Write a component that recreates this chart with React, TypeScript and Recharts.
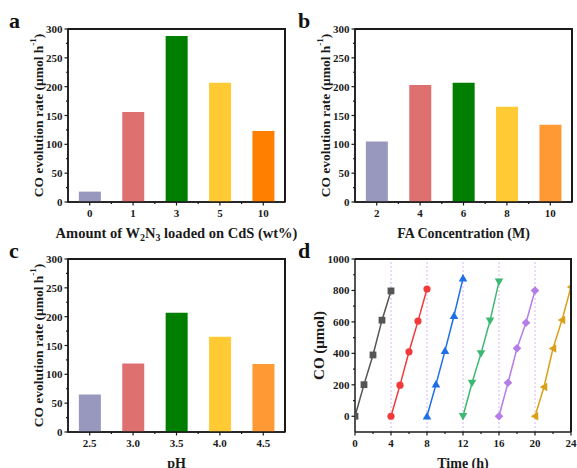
import React from 'react';
import { BarChart, Bar, Cell, XAxis, YAxis, LineChart, Line, ReferenceLine, ReferenceArea, Label } from 'recharts';

const FONT = '"Liberation Serif", "Times New Roman", serif';
const INK = '#1a1a1a';

// panel a: W2N3 loading
const loadings = ['0', '1', '3', '5', '10'];
const loadingRates = [18, 156, 288, 207, 123];
// panel b: formic acid concentration
const faConc = ['2', '4', '6', '8', '10'];
const faRates = [105, 203, 207, 165, 134];
// panel c: pH
const phValues = ['2.5', '3.0', '3.5', '4.0', '4.5'];
const phRates = [65, 119, 207, 165, 118];

const rateTicks = [0, 50, 100, 150, 200, 250, 300];
const rateMinor = [25, 75, 125, 175, 225, 275];
const colorsA = ['#9897BE', '#DE7070', '#007E00', '#FFCA33', '#FF8000'];
const colorsBC = ['#9897BE', '#DE7070', '#007E00', '#FFCA33', '#FF9933'];

// panel d: cycling runs
const cycleTimes = [
  [0, 1, 2, 3, 4],
  [4, 5, 6, 7, 8],
  [8, 9, 10, 11, 12],
  [12, 13, 14, 15, 16],
  [16, 17, 18, 19, 20],
  [20, 21, 22, 23, 24],
];
const cycleCO = [
  [0, 201, 390, 611, 797],
  [0, 198, 410, 605, 809],
  [0, 203, 416, 639, 877],
  [0, 212, 400, 607, 856],
  [0, 213, 432, 595, 800],
  [0, 186, 431, 612, 822],
];
const cycleColors = ['#555555', '#F23A3C', '#1E6FE6', '#3DB872', '#B47DE8', '#D9A01A'];
const cycleShapes = ['square', 'circle', 'up', 'down', 'diamond', 'left'];
const timeTicks = [0, 4, 8, 12, 16, 20, 24];
const timeMinor = [2, 6, 10, 14, 18, 22];
const coTicks = [0, 200, 400, 600, 800, 1000];
const coMinor = [100, 300, 500, 700, 900];
const cycleEnds = [4, 8, 12, 16, 20];

// plot box inside each panel
const PLOT_TOP = 29;
const Y_AXIS_W = 68;
const PLOT_H = 173;

const axisLine = { stroke: INK, strokeWidth: 1.5 };
const fontProps = { fill: INK, fontSize: 11, fontWeight: 700, fontFamily: FONT };

// top and right edges of the plot box as plain bordered divs
function BoxEdges({ w, r }: { w: number; r: number }) {
  return (
    <div
      style={{
        position: 'absolute',
        left: Y_AXIS_W,
        top: PLOT_TOP - 1,
        width: w - r - Y_AXIS_W + 1,
        height: PLOT_H + 1,
        boxSizing: 'border-box',
        borderTop: `2px solid ${INK}`,
        borderRight: `2px solid ${INK}`,
        pointerEvents: 'none',
      }}
    />
  );
}

const makeYTick = (majors: number[]) => (props: any) => {
  const { x, y, payload } = props;
  const major = majors.includes(payload.value);
  return (
    <g>
      <line x1={x} x2={x - (major ? 3.5 : 2)} y1={y} y2={y} stroke={INK} strokeWidth={1.2} />
      {major && (
        <text x={x - 5.5} y={y} dy={4} textAnchor="end" {...fontProps}>
          {payload.value}
        </text>
      )}
    </g>
  );
};

const makeXTick = (majors: number[]) => (props: any) => {
  const { x, y, payload } = props;
  const major = majors.includes(payload.value);
  return (
    <g>
      <line x1={x} x2={x} y1={y} y2={y + (major ? 3.5 : 2)} stroke={INK} strokeWidth={1.2} />
      {major && (
        <text x={x} y={y + 15} textAnchor="middle" {...fontProps}>
          {payload.value}
        </text>
      )}
    </g>
  );
};

const CatTick = (props: any) => {
  const { x, y, payload, index, width, visibleTicksCount } = props;
  const half = payload.offset || (width && visibleTicksCount ? width / visibleTicksCount / 2 : 21.7);
  return (
    <g>
      <line x1={x} x2={x} y1={y} y2={y + 3.5} stroke={INK} strokeWidth={1.2} />
      {index > 0 && <line x1={x - half} x2={x - half} y1={y} y2={y + 2} stroke={INK} strokeWidth={1.2} />}
      <text x={x} y={y + 15} textAnchor="middle" {...fontProps}>
        {payload.value}
      </text>
    </g>
  );
};

function xTitle(content: React.ReactNode, size = 14) {
  return (props: any) => {
    const vb = props.viewBox || {};
    return (
      <text
        x={vb.x + vb.width / 2}
        y={vb.y + 36}
        textAnchor="middle"
        fontFamily={FONT}
        fontWeight={700}
        fontSize={size}
        fill={INK}
      >
        {content}
      </text>
    );
  };
}

function yTitle(content: React.ReactNode, cxOff: number, size: number) {
  return (props: any) => {
    const vb = props.viewBox || {};
    const cx = vb.x + cxOff;
    const cy = vb.y + vb.height / 2;
    return (
      <text
        x={cx}
        y={cy}
        transform={`rotate(-90, ${cx}, ${cy})`}
        textAnchor="middle"
        dominantBaseline="central"
        fontFamily={FONT}
        fontWeight={700}
        fontSize={size}
        fill={INK}
      >
        {content}
      </text>
    );
  };
}

const rateTitle = (
  <>
    CO evolution rate (μmol h
    <tspan dy={-5} fontSize={9}>-1</tspan>
    <tspan dy={5}>)</tspan>
  </>
);

function PanelLetter({ ch, left, top }: { ch: string; left: number; top: number }) {
  return (
    <div
      style={{
        position: 'absolute',
        left,
        top,
        fontFamily: FONT,
        fontWeight: 700,
        fontSize: 22,
        lineHeight: '22px',
        color: '#111',
      }}
    >
      {ch}
    </div>
  );
}

function RatePanel({ cats, rates, colors, title, titleSize = 14, left, top, extra = 0 }: any) {
  const data = cats.map((c: string, i: number) => ({ cat: c, rate: rates[i] }));
  const w = 288 + extra;
  const r = 3 + extra;
  return (
    <div style={{ position: 'absolute', left, top, width: w, height: 246 }}>
      <BarChart
        width={w}
        height={246}
        data={data}
        margin={{ top: PLOT_TOP, right: r, left: 0, bottom: 0 }}
        barCategoryGap="25%"
      >
        <XAxis
          dataKey="cat"
          height={246 - PLOT_TOP - PLOT_H}
          axisLine={axisLine}
          tickLine={false}
          tickSize={0}
          tickMargin={0}
          tick={CatTick}
          interval={0}
        >
          <Label content={xTitle(title, titleSize)} />
        </XAxis>
        <YAxis
          domain={[0, 300]}
          ticks={[...rateTicks, ...rateMinor]}
          width={Y_AXIS_W}
          axisLine={axisLine}
          tickLine={false}
          tickSize={0}
          tickMargin={0}
          tick={makeYTick(rateTicks)}
          interval={0}
        >
          <Label content={yTitle(rateTitle, 38, 13.5)} />
        </YAxis>
        <Bar dataKey="rate" isAnimationActive={false}>
          {data.map((_: any, i: number) => (
            <Cell key={i} fill={colors[i]} />
          ))}
        </Bar>
        <ReferenceArea y1={0} y2={300} fill="none" fillOpacity={0} stroke={INK} strokeWidth={1.5} ifOverflow="visible" />
      </BarChart>
      <BoxEdges w={w} r={r} />
    </div>
  );
}

function Marker({ shape, cx, cy, color }: { shape: string; cx: number; cy: number; color: string }) {
  const s = 3.4;
  const t = 4.3;
  if (shape === 'square') return <rect x={cx - s} y={cy - s} width={2 * s} height={2 * s} fill={color} />;
  if (shape === 'circle') return <circle cx={cx} cy={cy} r={3.6} fill={color} />;
  if (shape === 'diamond')
    return <polygon points={`${cx},${cy - t} ${cx + t},${cy} ${cx},${cy + t} ${cx - t},${cy}`} fill={color} />;
  if (shape === 'up')
    return <polygon points={`${cx},${cy - t} ${cx + t},${cy + t * 0.75} ${cx - t},${cy + t * 0.75}`} fill={color} />;
  if (shape === 'down')
    return <polygon points={`${cx},${cy + t} ${cx + t},${cy - t * 0.75} ${cx - t},${cy - t * 0.75}`} fill={color} />;
  return <polygon points={`${cx - t},${cy} ${cx + t * 0.75},${cy - t} ${cx + t * 0.75},${cy + t}`} fill={color} />;
}

function CyclePanel({ left, top }: { left: number; top: number }) {
  const w = 290;
  const r = 6;
  return (
    <div style={{ position: 'absolute', left, top, width: w, height: 240 }}>
      <LineChart width={w} height={240} margin={{ top: PLOT_TOP, right: r, left: 0, bottom: 0 }}>
        <XAxis
          dataKey="t"
          type="number"
          domain={[0, 24]}
          ticks={[...timeTicks, ...timeMinor]}
          allowDataOverflow
          height={240 - PLOT_TOP - PLOT_H}
          axisLine={axisLine}
          tickLine={false}
          tickSize={0}
          tickMargin={0}
          tick={makeXTick(timeTicks)}
          interval={0}
        >
          <Label content={xTitle('Time (h)')} />
        </XAxis>
        <YAxis
          domain={[-100, 1000]}
          ticks={[...coTicks, ...coMinor]}
          allowDataOverflow
          width={Y_AXIS_W}
          axisLine={axisLine}
          tickLine={false}
          tickSize={0}
          tickMargin={0}
          tick={makeYTick(coTicks)}
          interval={0}
        >
          <Label content={yTitle('CO (μmol)', 32, 15)} />
        </YAxis>
        {cycleEnds.map((x) => (
          <ReferenceLine key={x} x={x} stroke="#D9B4F4" strokeWidth={1} strokeDasharray="2 2" />
        ))}
        <ReferenceLine y={1000} stroke={INK} strokeWidth={1.5} />
        <ReferenceLine x={24} stroke={INK} strokeWidth={1.5} />
        {cycleCO.map((vals, k) => (
          <Line
            key={k}
            data={vals.map((v, i) => ({ t: cycleTimes[k][i], co: v }))}
            dataKey="co"
            stroke={cycleColors[k]}
            strokeWidth={1.5}
            isAnimationActive={false}
            dot={(p: any) => (
              <Marker key={p.index} shape={cycleShapes[k]} cx={p.cx} cy={p.cy} color={cycleColors[k]} />
            )}
          />
        ))}
      </LineChart>
      <BoxEdges w={w} r={r} />
    </div>
  );
}

export default function App() {
  return (
    <div style={{ position: 'absolute', left: 0, top: 0, width: 577, height: 468, background: '#fff', overflow: 'hidden' }}>
      <RatePanel
        cats={loadings}
        rates={loadingRates}
        colors={colorsA}
        left={0}
        top={0}
        extra={20}
        titleSize={14.5}
        title={
          <>
            Amount of W<tspan dy={3} fontSize={10}>2</tspan>
            <tspan dy={-3}>N</tspan>
            <tspan dy={3} fontSize={10}>3</tspan>
            <tspan dy={-3}> loaded on CdS (wt%)</tspan>
          </>
        }
      />
      <RatePanel cats={faConc} rates={faRates} colors={colorsBC} left={287} top={0} title="FA Concentration (M)" />
      <RatePanel cats={phValues} rates={phRates} colors={colorsBC} left={0} top={230} title="pH" />
      <CyclePanel left={287} top={230} />
      <PanelLetter ch="a" left={9} top={10} />
      <PanelLetter ch="b" left={298} top={10} />
      <PanelLetter ch="c" left={9} top={240} />
      <PanelLetter ch="d" left={298} top={240} />
    </div>
  );
}
